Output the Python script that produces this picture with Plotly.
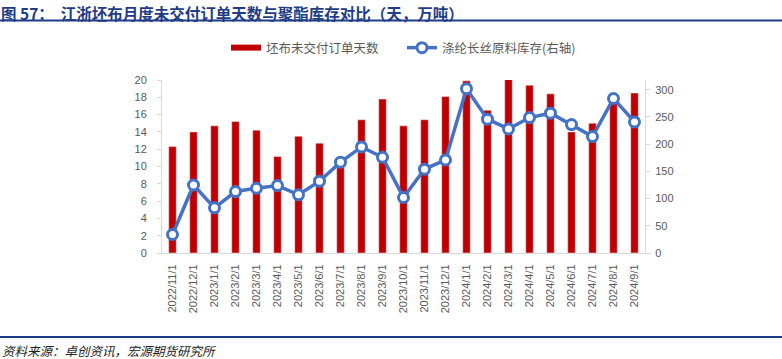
import plotly.graph_objects as go

categories = ["2022/11/1", "2022/12/1", "2023/1/1", "2023/2/1", "2023/3/1", "2023/4/1",
              "2023/5/1", "2023/6/1", "2023/7/1", "2023/8/1", "2023/9/1", "2023/10/1",
              "2023/11/1", "2023/12/1", "2024/1/1", "2024/2/1", "2024/3/1", "2024/4/1",
              "2024/5/1", "2024/6/1", "2024/7/1", "2024/8/1", "2024/9/1"]
order_days = [12.3, 14.0, 14.7, 15.2, 14.2, 11.15, 13.5, 12.7, 10.6, 15.4, 17.8, 14.7,
              15.4, 18.1, 19.9, 16.5, 20.1, 19.4, 18.4, 14.0, 15.0, 17.5, 18.5]
polyester_stock = [34, 125, 83, 113, 119, 124, 107, 132, 167, 195, 176, 102,
                   154, 171, 302, 246, 228, 249, 257, 236, 214, 284, 241]

left_ticks = [0, 2, 4, 6, 8, 10, 12, 14, 16, 18, 20]
right_ticks = [0, 50, 100, 150, 200, 250, 300]

RED = "#C00000"
BLUE = "#4472C4"
NAVY = "#1F3C88"
GRAY = "#595959"
AXIS = "#D9D9D9"
FONT = "Liberation Sans, Noto Sans CJK SC, sans-serif"
CJK = "Noto Sans CJK SC, sans-serif"

fig = go.Figure()

# legend-only entry for the bar series (wide red rectangle like the reference)
fig.add_trace(go.Scatter(x=[None], y=[None], mode="lines", name="坯布未交付订单天数",
                         line=dict(color=RED, width=6), showlegend=True, legend="legend"))
fig.add_trace(go.Bar(x=categories, y=order_days, name="坯布未交付订单天数",
                     marker=dict(color=RED), width=0.36, showlegend=False, yaxis="y"))
fig.add_trace(go.Scatter(x=categories, y=polyester_stock, name="涤纶长丝原料库存(右轴)",
                         mode="lines+markers", yaxis="y2", legend="legend2",
                         line=dict(color=BLUE, width=3.5),
                         marker=dict(symbol="circle", size=10, color="white",
                                     line=dict(color=BLUE, width=3))))

W, H = 782, 359
L, R, T, B = 162, 645, 80, 253

def px(X):
    return (X - L) / (R - L)

def py(Y):
    return (B - Y) / (B - T)

legend_common = dict(orientation="h", xref="container", yref="container",
                     xanchor="left", y=1 - 48 / H, yanchor="middle",
                     font=dict(family=CJK, size=12.5, color=GRAY), bgcolor="rgba(0,0,0,0)")

fig.update_layout(
    width=W, height=H,
    margin=dict(l=L, r=W - R, t=T, b=H - B, pad=0, autoexpand=False),
    paper_bgcolor="white", plot_bgcolor="white",
    font=dict(family=FONT, color=GRAY, size=11),
    xaxis=dict(type="category", tickangle=-90, showline=True, linecolor=AXIS, linewidth=1,
               ticks="", showgrid=False, tickfont=dict(size=11, color=GRAY),
               range=[-0.5, len(categories) - 0.5], automargin=False, ticklabelstandoff=6),
    yaxis=dict(range=[0, 20], tickvals=left_ticks, showline=True, linecolor=AXIS, linewidth=1,
               ticks="outside", ticklen=4, tickcolor=AXIS, showgrid=False, zeroline=False,
               tickfont=dict(size=11, color=GRAY), automargin=False, ticklabelstandoff=8),
    yaxis2=dict(range=[0, 318], tickvals=right_ticks, overlaying="y", side="right",
                showline=True, linecolor=AXIS, linewidth=1, ticks="outside", ticklen=4,
                tickcolor=AXIS, showgrid=False, zeroline=False,
                tickfont=dict(size=11, color=GRAY), automargin=False, ticklabelstandoff=3),
    legend=dict(x=226 / W, **legend_common),
    legend2=dict(x=402 / W, **legend_common),
    showlegend=True,
)

fig.add_annotation(text="<b>图 57：  江浙坯布月度未交付订单天数与聚酯库存对比（天，万吨）</b>",
                   xref="paper", yref="paper", x=px(0), y=py(0.5), xanchor="left", yanchor="top",
                   showarrow=False, borderpad=0, font=dict(family=CJK, size=15.5, color=NAVY))
fig.add_annotation(text="资料来源：卓创资讯，宏源期货研究所",
                   xref="paper", yref="paper", x=px(0), y=py(350), xanchor="left", yanchor="middle",
                   showarrow=False, font=dict(family=CJK, size=12.5, color="#222222", style="italic"))

fig.add_shape(type="line", xref="paper", yref="paper", x0=px(0), x1=px(W), y0=py(20.5), y1=py(20.5),
              line=dict(color=NAVY, width=2))
fig.add_shape(type="line", xref="paper", yref="paper", x0=px(0), x1=px(W), y0=py(337), y1=py(337),
              line=dict(color=NAVY, width=2))

fig.write_html("out.html", config={"displayModeBar": False},
               post_script="document.body.style.margin='0';document.body.style.padding='0';")
